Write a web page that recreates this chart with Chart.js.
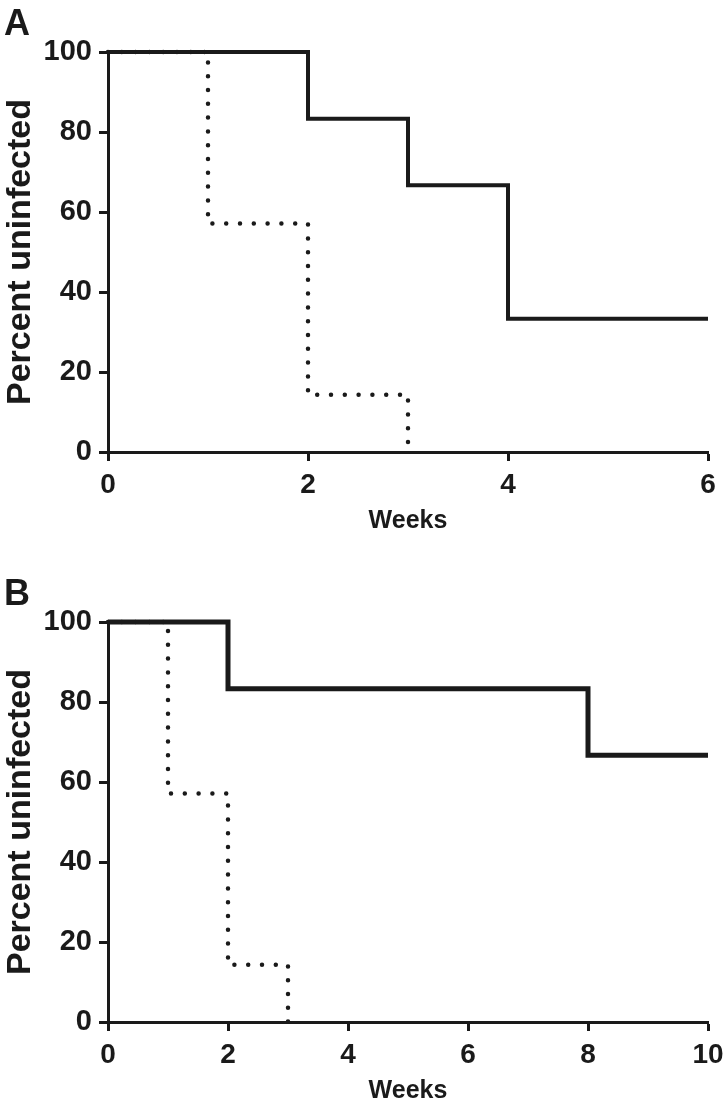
<!DOCTYPE html>
<html>
<head>
<meta charset="utf-8">
<script src="https://cdn.jsdelivr.net/npm/chart.js@4/dist/chart.umd.min.js"></script>
<style>
  html, body { margin: 0; padding: 0; background: #fff; overflow: hidden; }
  .panel { position: absolute; left: 0; width: 725px; height: 570px; }
  .letter { position: absolute; left: 4px; top: 5px; font: bold 36px "Liberation Sans", Arial, sans-serif; line-height: 35px; color: #1a1a1a; }
</style>
</head>
<body>
<div class="panel" style="top:0">
  <canvas id="chartA" width="725" height="570"></canvas>
  <div class="letter">A</div>
</div>
<div class="panel" style="top:570px">
  <canvas id="chartB" width="725" height="570"></canvas>
  <div class="letter">B</div>
</div>
<script>
// data (step curves, % uninfected per week)
const solidWeeksA = [0, 2, 3, 4, 6];
const solidA = [100, 83.3, 66.7, 33.3, 33.3];
const dottedWeeksA = [0, 1, 2, 3];
const dottedA = [100, 57.1, 14.3, 0];

const solidWeeksB = [0, 2, 8, 10];
const solidB = [100, 83.3, 66.7, 66.7];
const dottedWeeksB = [0, 1, 2, 3];
const dottedB = [100, 57.1, 14.3, 0];

const yTicks = [0, 20, 40, 60, 80, 100];
const xMaxA = 6;
const xMaxB = 10;

const ink = '#1a1a1a';
const fam = '"Liberation Sans", Arial, sans-serif';

function pts(xs, ys) {
    return xs.map((x, i) => ({ x: x, y: ys[i] }));
}

function makeChart(id, solidX, solidY, dotX, dotY, xMax, solidWidth) {
    const ctx = document.getElementById(id).getContext('2d');
    return new Chart(ctx, {
        type: 'line',
        data: {
            datasets: [
                {
                    data: pts(solidX, solidY),
                    borderColor: ink,
                    borderWidth: solidWidth,
                    stepped: 'before',
                    pointRadius: 0,
                    fill: false,
                    clip: false
                },
                {
                    data: pts(dotX, dotY),
                    borderColor: ink,
                    borderWidth: 4.5,
                    borderDash: [0, 13.8],
                    borderCapStyle: 'round',
                    stepped: 'before',
                    pointRadius: 0,
                    fill: false,
                    clip: false
                }
            ]
        },
        options: {
            responsive: false,
            animation: false,
            devicePixelRatio: 1,
            layout: { padding: { top: 52, right: 17, left: 0, bottom: 0 } },
            plugins: { legend: { display: false }, tooltip: { enabled: false } },
            scales: {
                x: {
                    type: 'linear',
                    min: 0,
                    max: xMax,
                    afterFit: s => { s.height = 118; s.paddingLeft = 0; s.paddingRight = 0; },
                    ticks: {
                        stepSize: 2,
                        padding: 7,
                        color: ink,
                        font: { family: fam, size: 28, weight: 'bold' },
                        maxRotation: 0
                    },
                    grid: { drawOnChartArea: false, tickLength: 9, tickWidth: 3, tickColor: ink },
                    border: { display: true, width: 3, color: ink },
                    title: {
                        display: true,
                        text: 'Weeks',
                        color: ink,
                        font: { family: fam, size: 25, weight: 'bold' },
                        padding: { top: 0, bottom: 34 }
                    }
                },
                y: {
                    min: 0,
                    max: 100,
                    afterFit: s => { s.width = 108; s.paddingTop = 0; s.paddingBottom = 0; },
                    afterBuildTicks: s => { s.ticks = yTicks.map(v => ({ value: v })); },
                    ticks: {
                        padding: 7,
                        color: ink,
                        font: { family: fam, size: 29, weight: 'bold' }
                    },
                    grid: { drawOnChartArea: false, tickLength: 9, tickWidth: 3, tickColor: ink },
                    border: { display: true, width: 3, color: ink },
                    title: {
                        display: true,
                        text: 'Percent uninfected',
                        color: ink,
                        font: { family: fam, size: 34, weight: 'bold' },
                        padding: 0
                    }
                }
            }
        }
    });
}

makeChart('chartA', solidWeeksA, solidA, dottedWeeksA, dottedA, xMaxA, 4);
makeChart('chartB', solidWeeksB, solidB, dottedWeeksB, dottedB, xMaxB, 5);
</script>
</body>
</html>
